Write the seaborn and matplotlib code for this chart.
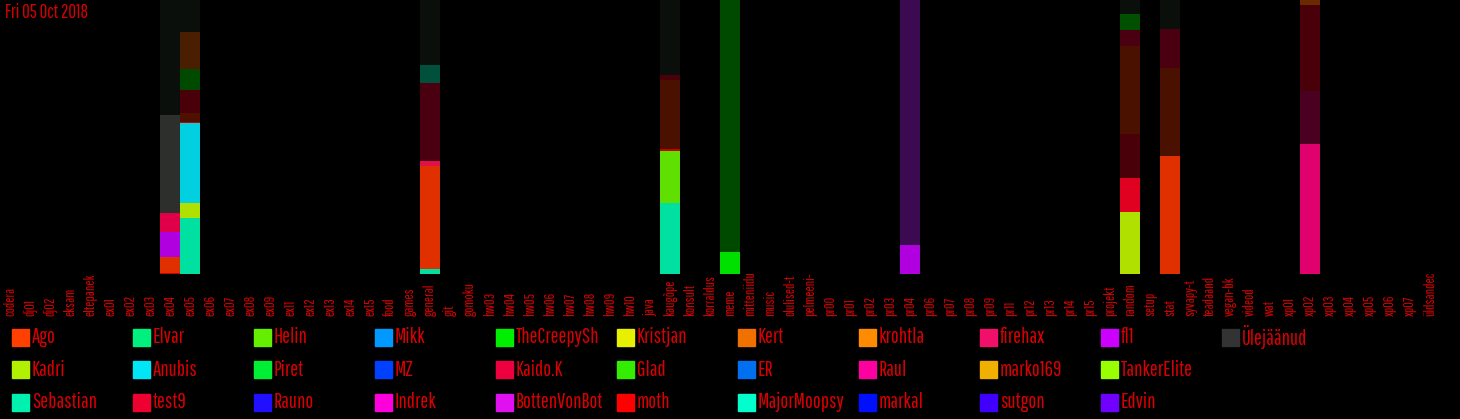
import numpy as np
import pandas as pd
import matplotlib
matplotlib.use('Agg')
import matplotlib.pyplot as plt
from matplotlib.patches import Rectangle
from matplotlib.transforms import Bbox, TransformedBbox
import seaborn as sns

# channels on the x axis
channels = ['codera', 'dj01', 'dj02', 'eksam', 'eltepanek', 'ex01', 'ex02', 'ex03', 'ex04', 'ex05',
            'ex06', 'ex07', 'ex08', 'ex09', 'ex11', 'ex12', 'ex13', 'ex14', 'ex15', 'food',
            'games', 'general', 'git', 'gomoku', 'hw03', 'hw04', 'hw05', 'hw06', 'hw07', 'hw08',
            'hw09', 'hw10', 'java', 'kaugõpe', 'konsult', 'korraldus', 'meme', 'mitteniidu', 'music', 'olulised-t',
            'pelmeeni-', 'pr00', 'pr01', 'pr02', 'pr03', 'pr04', 'pr06', 'pr07', 'pr08', 'pr09',
            'pr11', 'pr12', 'pr13', 'pr14', 'pr15', 'projekt', 'random', 'setup', 'stat', 'syvapy-t',
            'teadaand', 'vegan-bk', 'videod', 'wat', 'xp01', 'xp02', 'xp03', 'xp04', 'xp05', 'xp06',
            'xp07', 'üldsandec']

# stacked segments (bottom -> top), share of channel in %
seg_channel = ['ex04'] * 6 + ['ex05'] * 9 + ['general'] * 6 + ['kaugõpe'] * 6 + ['meme'] * 2 \
    + ['pr04'] * 2 + ['random'] * 7 + ['stat'] * 4 + ['xp02'] * 4
seg_share = [0.5, 5.8, 9.2, 6.6, 36.0, 41.9,
             20.4, 5.6, 29.1, 0.4, 3.3, 8.4, 7.6, 13.6, 11.6,
             1.9, 37.5, 1.8, 28.6, 6.5, 23.7,
             26.0, 19.0, 0.5, 25.4, 1.6, 27.5,
             8.0, 92.0,
             10.6, 89.4,
             22.6, 12.4, 16.1, 32.1, 5.8, 5.8, 5.2,
             43.2, 31.9, 14.4, 10.5,
             47.4, 19.5, 31.3, 1.8]
seg_color = ['#c80000', '#e03000', '#b000e0', '#e0004a', '#2d2f2d', '#0a0f0c',
             '#00e0a0', '#b0e000', '#00d0e0', '#c80000', '#501000', '#4a0008', '#004a00', '#4a1e00', '#0a0f0c',
             '#00e0a0', '#e03000', '#e0104a', '#4a0010', '#00503c', '#0a0f0c',
             '#00e0a0', '#60e000', '#c80000', '#4a1000', '#4a0008', '#0a0f0c',
             '#00e000', '#004a00',
             '#b000e0', '#3c0a50',
             '#b0e000', '#e00020', '#4a0008', '#4a1000', '#4a0010', '#005000', '#0a0f0c',
             '#e03000', '#4a1000', '#4a0010', '#0a0f0c',
             '#e0006e', '#4a0020', '#4a0008', '#6a2a00']

# legend users, column by column (3 rows)
users = ['Ago', 'Kadri', 'Sebastian', 'Elvar', 'Anubis', 'test9', 'Helin', 'Piret', 'Rauno',
         'Mikk', 'MZ', 'Indrek', 'TheCreepySh', 'Kaido.K', 'BottenVonBot', 'Kristjan', 'Glad', 'moth',
         'Kert', 'ER', 'MajorMoopsy', 'krohtla', 'Raul', 'markal', 'firehax', 'marko169', 'sutgon',
         'fl1', 'TankerElite', 'Edvin', 'Ülejäänud']
user_colors = ['#ff4000', '#b0f000', '#00f0b0', '#00f080', '#00e6f6', '#ee0030', '#66ee00', '#00ee33', '#2010ff',
               '#0099ff', '#0040ff', '#ff00dd', '#00ee00', '#ee0040', '#e010f0', '#e6f000', '#33ee00', '#ff0000',
               '#f07000', '#0070f0', '#00ffcc', '#ff8c00', '#ff00a0', '#0010ff', '#f0106a', '#f0b000', '#4000ff',
               '#cc00ff', '#99ff00', '#7000ff', '#333333']

date_label = 'Fri 05 Oct 2018'

sns.set_style('dark')
plt.rcParams['font.family'] = ['Pathway Gothic One', 'DejaVu Sans']
txt_red = '#d80000'

df = pd.DataFrame({'channel': seg_channel, 'share': seg_share, 'color': seg_color})
df['x'] = df['channel'].map({c: i for i, c in enumerate(channels)})
df['bottom'] = df.groupby('channel')['share'].cumsum() - df['share']

fig = plt.figure(figsize=(14.6, 4.19), dpi=100, facecolor='black')
ax = fig.add_axes([0, 1 - 274 / 419, 1440 / 1460, 274 / 419])
ax.set_facecolor('black')
ax.bar(df['x'], df['share'], bottom=df['bottom'], width=1.0, color=df['color'], linewidth=0)
ax.set_xlim(-0.5, len(channels) - 0.5)
ax.set_ylim(0, 100)
ax.set_xticks([])
ax.set_yticks([])
for s in ax.spines.values():
    s.set_visible(False)

# channel labels, read bottom to top, cut at the bars' baseline
clip = TransformedBbox(Bbox([[0, 0], [1, 145 / 419]]), fig.transFigure)
for i, c in enumerate(channels):
    t = ax.text(i, -42 / 274, c, transform=ax.get_xaxis_transform(), rotation=90,
                ha='center', va='bottom', fontsize=10, color=txt_red)
    t.set_clip_box(clip)
    t.set_clip_on(True)

fig.text(5 / 1460, 1 - 12 / 419, date_label, ha='left', va='center', fontsize=13.5, color=txt_red)

# legend in a fixed grid, 3 rows
for k, (u, col) in enumerate(zip(users, user_colors)):
    cx = 12 + (k // 3) * 121
    cy = 337 + (k % 3) * 32.5
    fig.patches.append(Rectangle((cx / 1460, 1 - (cy + 8.5) / 419), 17 / 1460, 17 / 419,
                                 transform=fig.transFigure, color=col, figure=fig))
    fig.text((cx + 20) / 1460, 1 - cy / 419, u, ha='left', va='center', fontsize=15, color=txt_red)

plt.savefig('out.png', dpi=100, facecolor='black')
